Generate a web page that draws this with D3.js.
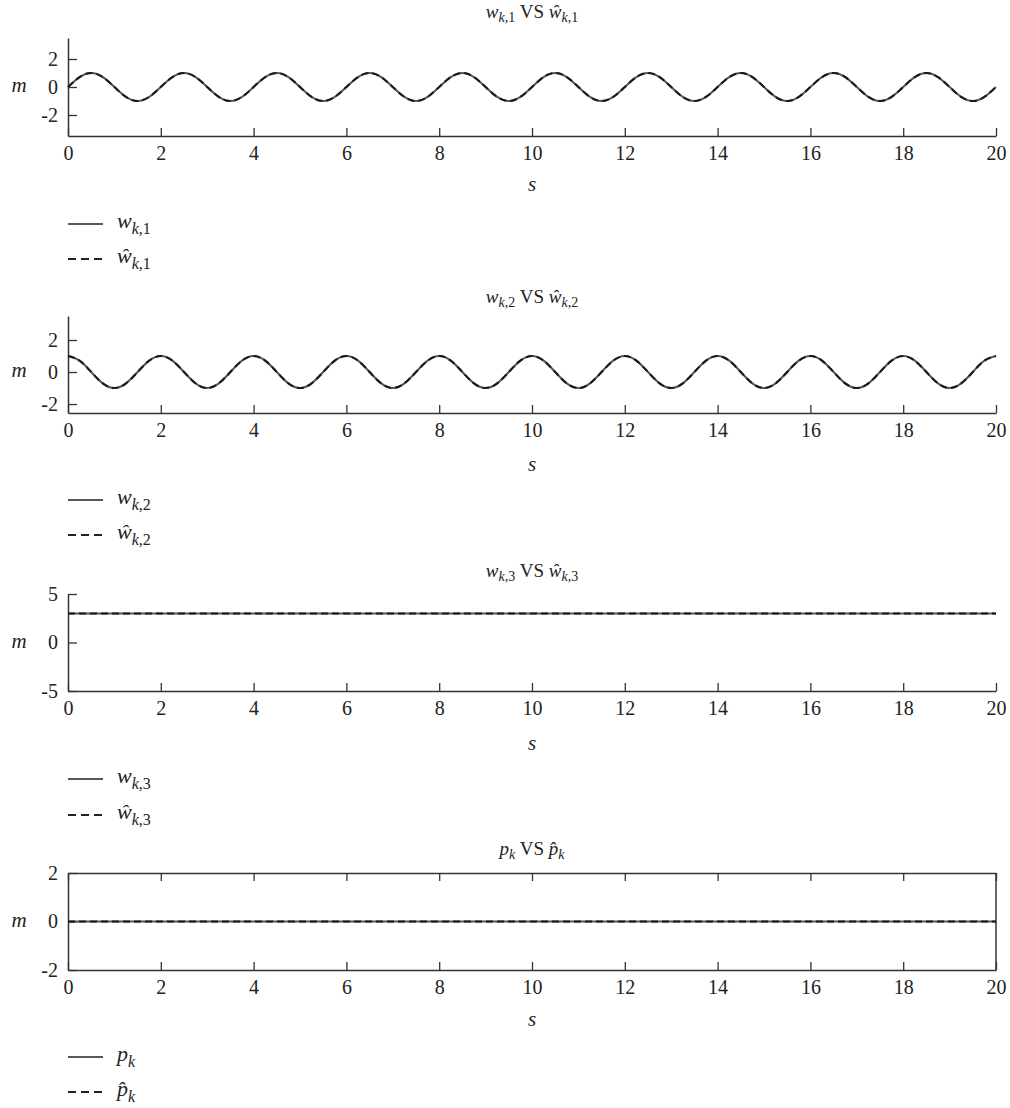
<!DOCTYPE html>
<html>
<head>
<meta charset="utf-8">
<script src="https://cdn.jsdelivr.net/npm/d3@7"></script>
<style>
  html, body { margin: 0; padding: 0; background: #fff; }
  svg { display: block; }
</style>
</head>
<body>
<svg id="chart" width="1010" height="1108"></svg>
<script>
// ---- data ----
const xTicks = [0, 2, 4, 6, 8, 10, 12, 14, 16, 18, 20];
const tWave = d3.range(0, 20.001, 0.25);           // sample times of the waves
const tFlat = [0, 20];                              // sample times of constant series
const w1 = [0,0.71,1,0.71,0,-0.71,-1,-0.71, 0,0.71,1,0.71,0,-0.71,-1,-0.71, 0,0.71,1,0.71,0,-0.71,-1,-0.71, 0,0.71,1,0.71,0,-0.71,-1,-0.71, 0,0.71,1,0.71,0,-0.71,-1,-0.71, 0,0.71,1,0.71,0,-0.71,-1,-0.71, 0,0.71,1,0.71,0,-0.71,-1,-0.71, 0,0.71,1,0.71,0,-0.71,-1,-0.71, 0,0.71,1,0.71,0,-0.71,-1,-0.71, 0,0.71,1,0.71,0,-0.71,-1,-0.71, 0];
const w1hat = [0,0.71,1,0.71,0,-0.71,-1,-0.71, 0,0.71,1,0.71,0,-0.71,-1,-0.71, 0,0.71,1,0.71,0,-0.71,-1,-0.71, 0,0.71,1,0.71,0,-0.71,-1,-0.71, 0,0.71,1,0.71,0,-0.71,-1,-0.71, 0,0.71,1,0.71,0,-0.71,-1,-0.71, 0,0.71,1,0.71,0,-0.71,-1,-0.71, 0,0.71,1,0.71,0,-0.71,-1,-0.71, 0,0.71,1,0.71,0,-0.71,-1,-0.71, 0,0.71,1,0.71,0,-0.71,-1,-0.71, 0];
const w2 = [1,0.71,0,-0.71,-1,-0.71,0,0.71, 1,0.71,0,-0.71,-1,-0.71,0,0.71, 1,0.71,0,-0.71,-1,-0.71,0,0.71, 1,0.71,0,-0.71,-1,-0.71,0,0.71, 1,0.71,0,-0.71,-1,-0.71,0,0.71, 1,0.71,0,-0.71,-1,-0.71,0,0.71, 1,0.71,0,-0.71,-1,-0.71,0,0.71, 1,0.71,0,-0.71,-1,-0.71,0,0.71, 1,0.71,0,-0.71,-1,-0.71,0,0.71, 1,0.71,0,-0.71,-1,-0.71,0,0.71, 1];
const w2hat = [1,0.71,0,-0.71,-1,-0.71,0,0.71, 1,0.71,0,-0.71,-1,-0.71,0,0.71, 1,0.71,0,-0.71,-1,-0.71,0,0.71, 1,0.71,0,-0.71,-1,-0.71,0,0.71, 1,0.71,0,-0.71,-1,-0.71,0,0.71, 1,0.71,0,-0.71,-1,-0.71,0,0.71, 1,0.71,0,-0.71,-1,-0.71,0,0.71, 1,0.71,0,-0.71,-1,-0.71,0,0.71, 1,0.71,0,-0.71,-1,-0.71,0,0.71, 1,0.71,0,-0.71,-1,-0.71,0,0.71, 1];
const w3 = [3, 3];
const w3hat = [3, 3];
const pk = [0, 0];
const pkhat = [0, 0];
const yTicks1 = [-2, 0, 2];
const yTicks2 = [-2, 0, 2];
const yTicks3 = [-5, 0, 5];
const yTicks4 = [-2, 0, 2];

// ---- layout ----
const FONT = '"Liberation Serif", "Times New Roman", serif';
const svg = d3.select("#chart");
const X0 = 68, X1 = 996;
const x = d3.scaleLinear().domain([0, 20]).range([X0, X1]);
const AX = "#333";
const fmt = d => String(d);

const panels = [
  { hatSym: "\u0175", sym: "w", sub: ",1", t: tWave, a: w1, b: w1hat, dom: [-3.5, 3.5], top: 38, bot: 136, ticks: yTicks1,
    titleY: 18, sY: 191, legY: [224, 259], box: false },
  { hatSym: "\u0175", sym: "w", sub: ",2", t: tWave, a: w2, b: w2hat, dom: [-2.56, 3.5], top: 316, bot: 413, ticks: yTicks2,
    titleY: 303, sY: 471, legY: [500, 535], box: false },
  { hatSym: "\u0175", sym: "w", sub: ",3", t: tFlat, a: w3, b: w3hat, dom: [-5, 5], top: 594, bot: 691, ticks: yTicks3,
    titleY: 577, sY: 750, legY: [779, 815], box: false },
  { hatSym: "p\u0302", sym: "p", sub: "", t: tFlat, a: pk, b: pkhat, dom: [-2, 2], top: 873, bot: 970, ticks: yTicks4,
    titleY: 855, sY: 1026, legY: [1057, 1092], box: true }
];

function txt(g, xPos, yPos, size, anchor) {
  return g.append("text").attr("x", xPos).attr("y", yPos)
    .attr("text-anchor", anchor || "start")
    .style("font-family", FONT).style("font-size", size + "px").attr("fill", "#222");
}

function label(g, xPos, yPos, main, sub, size) {
  const subSize = Math.round(size * 0.72);
  const t = txt(g, xPos, yPos, size);
  t.append("tspan").style("font-style", "italic").text(main);
  t.append("tspan").style("font-style", "italic").style("font-size", subSize + "px")
    .attr("dy", Math.round(size * 0.25)).text("k");
  if (sub) t.append("tspan").style("font-size", subSize + "px").text(sub);
  return t;
}

function titleText(g, p, yPos) {
  const size = 19, subSize = 14;
  const t = txt(g, (X0 + X1) / 2, yPos, size, "middle");
  t.append("tspan").style("font-style", "italic").text(p.sym);
  t.append("tspan").style("font-style", "italic").style("font-size", subSize + "px").attr("dy", 4).text("k");
  if (p.sub) t.append("tspan").style("font-size", subSize + "px").text(p.sub);
  t.append("tspan").attr("dy", -4).text(" VS ");
  t.append("tspan").style("font-style", "italic").text(p.hatSym);
  t.append("tspan").style("font-style", "italic").style("font-size", subSize + "px").attr("dy", 4).text("k");
  if (p.sub) t.append("tspan").style("font-size", subSize + "px").text(p.sub);
}

panels.forEach(p => {
  const g = svg.append("g");
  const y = d3.scaleLinear().domain(p.dom).range([p.bot, p.top]);

  titleText(g, p, p.titleY);

  // axes
  g.append("g").attr("transform", `translate(0,${p.bot})`)
    .call(d3.axisBottom(x).tickValues(xTicks).tickFormat(fmt).tickSizeInner(-8).tickSizeOuter(0).tickPadding(10));
  g.append("g").attr("transform", `translate(${X0},0)`)
    .call(d3.axisLeft(y).tickValues(p.ticks).tickFormat(fmt).tickSizeInner(-9).tickSizeOuter(0).tickPadding(10));
  if (p.box) {
    g.append("g").attr("transform", `translate(0,${p.top})`)
      .call(d3.axisTop(x).tickValues(xTicks).tickFormat("").tickSizeInner(-8).tickSizeOuter(0));
    g.append("line").attr("x1", X1).attr("x2", X1).attr("y1", p.top).attr("y2", p.bot)
      .attr("stroke", AX).attr("stroke-width", 1.5);
  }
  g.selectAll(".domain").attr("stroke", AX).attr("stroke-width", 1.5);
  g.selectAll(".tick line").attr("stroke", AX).attr("stroke-width", 1.3);
  g.selectAll(".tick text").style("font-size", "20px").style("font-family", FONT).attr("fill", "#222");

  // axis labels
  txt(g, 19, y(0) + 5, 21, "middle").style("font-style", "italic").text("m");
  txt(g, (X0 + X1) / 2, p.sY, 21, "middle").style("font-style", "italic").text("s");

  // series
  const line = d3.line().x((d, i) => x(p.t[i])).y(d => y(d)).curve(d3.curveNatural);
  g.append("path").datum(p.a).attr("d", line).attr("fill", "none")
    .attr("stroke", "#555").attr("stroke-width", 2);
  g.append("path").datum(p.b).attr("d", line).attr("fill", "none")
    .attr("stroke", "#1a1a1a").attr("stroke-width", 2).attr("stroke-dasharray", "7,4");

  // legend
  const lg = g.append("g");
  lg.append("line").attr("x1", X0).attr("x2", 103).attr("y1", p.legY[0]).attr("y2", p.legY[0])
    .attr("stroke", "#222").attr("stroke-width", 1.6);
  lg.append("line").attr("x1", X0).attr("x2", 103).attr("y1", p.legY[1]).attr("y2", p.legY[1])
    .attr("stroke", "#222").attr("stroke-width", 2).attr("stroke-dasharray", "8,5");
  label(lg, 117, p.legY[0] + 4, p.sym, p.sub, 22);
  label(lg, 117, p.legY[1] + 4, p.hatSym, p.sub, 22);
});
</script>
</body>
</html>
